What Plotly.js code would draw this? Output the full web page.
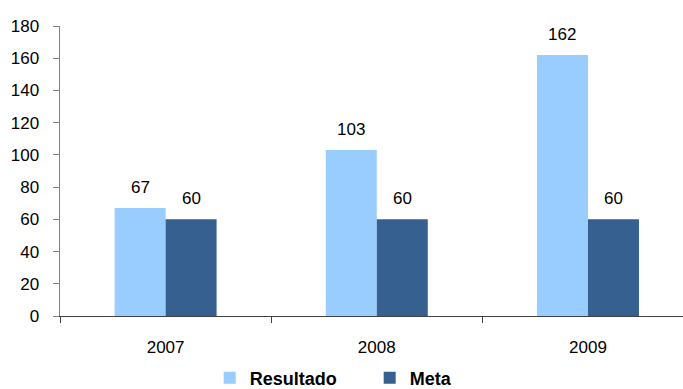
<!DOCTYPE html>
<html><head><meta charset="utf-8">
<script src="https://cdn.plot.ly/plotly-3.0.1.min.js"></script>
<style>html,body{margin:0;padding:0;background:#fff}#c{width:683px;height:389px}</style>
</head><body><div id="c"></div>
<script>
const years = ['2007', '2008', '2009'];
const resultado = [67, 103, 162];
const meta = [60, 60, 60];
const yTicks = [0, 20, 40, 60, 80, 100, 120, 140, 160, 180];

const FONT = '"Liberation Sans", Arial, sans-serif';
const cR = '#99CCFF', cM = '#35608F';

const traces = [
  {type: 'bar', name: 'Resultado', x: years, y: resultado, marker: {color: cR}},
  {type: 'bar', name: 'Meta', x: years, y: meta, marker: {color: cM}}
];

const ann = [];
years.forEach((yr, i) => {
  ann.push({x: i, y: resultado[i], text: String(resultado[i]), xref: 'x', yref: 'y', showarrow: false,
    xshift: -25.5, yshift: 9, yanchor: 'bottom', font: {family: FONT, size: 17, color: '#000'}});
  ann.push({x: i, y: meta[i], text: String(meta[i]), xref: 'x', yref: 'y', showarrow: false,
    xshift: 25.5, yshift: 9, yanchor: 'bottom', font: {family: FONT, size: 17, color: '#000'}});
});

const layout = {
  width: 683, height: 389,
  margin: {l: 60, r: 0, t: 26, b: 73, autoexpand: false},
  paper_bgcolor: '#fff', plot_bgcolor: '#fff',
  font: {family: FONT, size: 17, color: '#000'},
  barmode: 'group', bargap: 0.517, bargroupgap: 0,
  showlegend: true,
  legend: {orientation: 'h', xref: 'container', yref: 'container', x: 0.307, xanchor: 'left', y: 0.028, yanchor: 'middle',
    font: {family: FONT, size: 18, color: '#000', weight: 'bold'}, itemwidth: 30,
    entrywidth: 115, entrywidthmode: 'pixels', traceorder: 'normal'},
  xaxis: {type: 'category', range: [-0.5, 2.45], showline: true, linecolor: '#404040', linewidth: 1,
    ticks: 'outside', tickson: 'boundaries', ticklen: 6, tickcolor: '#404040', showgrid: false,
    ticklabelstandoff: 16, tickfont: {family: FONT, size: 17}, fixedrange: true},
  yaxis: {range: [0, 180], tickvals: yTicks, showline: true, linecolor: '#808080', linewidth: 1.5,
    ticks: 'outside', ticklen: 6, tickcolor: '#808080', showgrid: false, zeroline: false,
    ticklabelstandoff: 10, tickfont: {family: FONT, size: 17}, fixedrange: true},
  annotations: ann
};
Plotly.newPlot('c', traces, layout, {staticPlot: true});
</script></body></html>
